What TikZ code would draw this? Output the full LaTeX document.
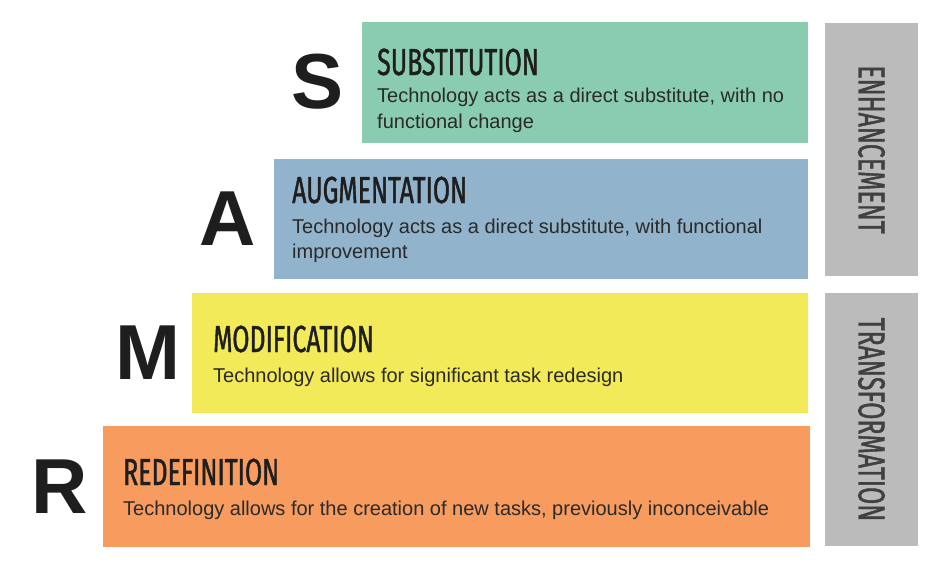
\documentclass[tikz,border=0pt]{standalone}
\usepackage{fontspec}
\setmainfont{Liberation Sans}
\newfontfamily\condfont[FakeStretch=0.66,FakeBold=1.1]{Fira Sans}
\definecolor{sgreen}{HTML}{8ACCB0}
\definecolor{ablue}{HTML}{92B3CC}
\definecolor{myellow}{HTML}{F2EA58}
\definecolor{rorange}{HTML}{F79C5E}
\definecolor{sidegray}{HTML}{BBBBBB}
\definecolor{ink}{HTML}{1E1E1E}
\definecolor{bodyink}{HTML}{2A2A2A}
\begin{document}
\begin{tikzpicture}[x=1pt,y=-1pt,
  bar/.style={inner sep=0pt, outer sep=0pt, anchor=north west, draw=none},
  letter/.style={inner sep=0pt, text=ink, font=\fontsize{78}{78}\selectfont\bfseries},
  title/.style={inner sep=0pt, anchor=base west, text=ink, font=\condfont\fontsize{37.7}{40}\selectfont},
  bodyline/.style={inner sep=0pt, anchor=base west, text=bodyink, font=\fontsize{20}{25}\selectfont},
  vlabel/.style={inner sep=0pt, rotate=-90, text=ink!85, font=\condfont\fontsize{37.7}{40}\selectfont}]
\useasboundingbox (0,0) rectangle (944,570);
\fill[white] (0,0) rectangle (944,570);
% bars
\node[bar, fill=sgreen, minimum width=446pt, minimum height=121pt] (sbox) at (362,22) {};
\node[bar, fill=ablue, minimum width=534pt, minimum height=120pt] (abox) at (274,159) {};
\node[bar, fill=myellow, minimum width=616pt, minimum height=120pt] (mbox) at (192,293) {};
\node[bar, fill=rorange, minimum width=707pt, minimum height=121pt] (rbox) at (103,426) {};
\node[bar, fill=sidegray, minimum width=93pt, minimum height=253pt] (enh) at (825,23) {};
\node[bar, fill=sidegray, minimum width=93pt, minimum height=253pt] (trf) at (825,293) {};
% letters
\node[letter] (sl) at (318,82) {S};
\node[letter] (al) at (228,219) {A};
\node[letter] (ml) at (148,353) {M};
\node[letter] (rl) at (60,487) {R};
% titles
\node[title] (st) at (377,75) {SUBSTITUTION};
\node[title] (at) at (292,203) {AUGMENTATION};
\node[title] (mt) at (213,352) {MODIFICATION};
\node[title] (rt) at (123,485) {REDEFINITION};
% bodies
\node[bodyline] (sb1) at (377,102) {Technology acts as a direct substitute, with no};
\node[bodyline] (sb2) at (377,128) {functional change};
\node[bodyline] (ab1) at (292,233) {Technology acts as a direct substitute, with functional};
\node[bodyline] (ab2) at (292,258) {improvement};
\node[bodyline] (mb1) at (213,382) {Technology allows for significant task redesign};
\node[bodyline] (rb1) at (123,515) {Technology allows for the creation of new tasks, previously inconceivable};
% side labels
\node[vlabel] (enht) at (enh.center) {ENHANCEMENT};
\node[vlabel] (trft) at (trf.center) {TRANSFORMATION};
\end{tikzpicture}
\end{document}
